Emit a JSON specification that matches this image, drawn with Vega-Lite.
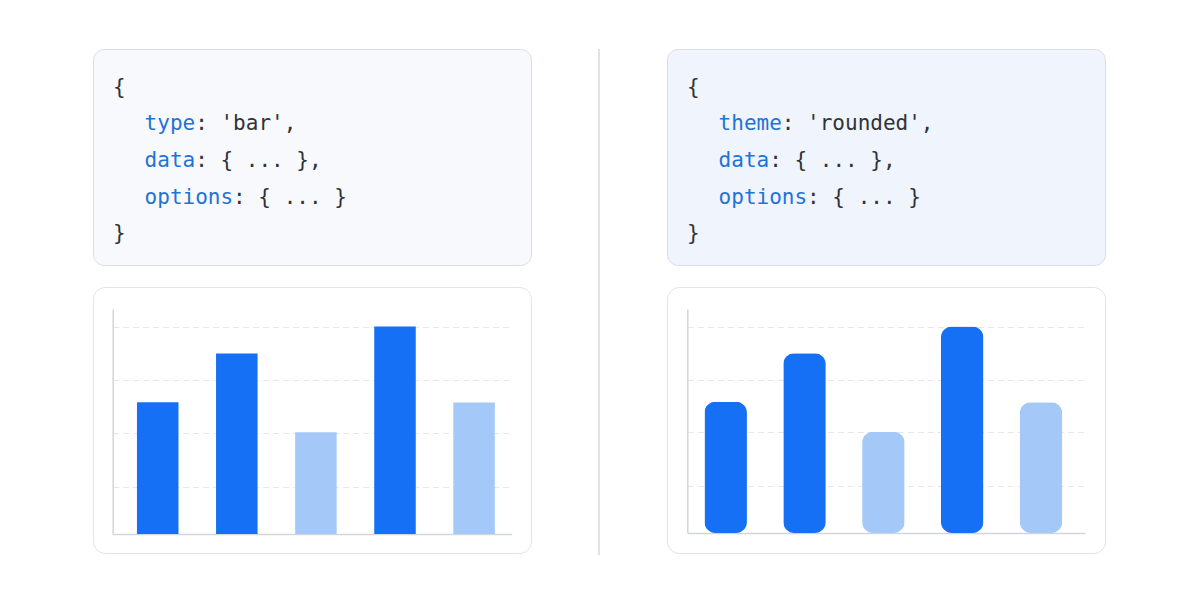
{
  "$schema": "https://vega.github.io/schema/vega-lite/v6.json",
  "background": "#ffffff",
  "padding": {"left": 92, "top": 48, "right": 0, "bottom": 0},
  "datasets": {
    "bars": [
      {"bar": "A", "value": 58.6, "tone": "strong"},
      {"bar": "B", "value": 80.2, "tone": "strong"},
      {"bar": "C", "value": 45.2, "tone": "soft"},
      {"bar": "D", "value": 92.2, "tone": "strong"},
      {"bar": "E", "value": 58.4, "tone": "soft"}
    ],
    "codeBar": [
      {"line": 1, "depth": 0, "key": "", "rest": "{"},
      {"line": 2, "depth": 1, "key": "type", "rest": ": 'bar',"},
      {"line": 3, "depth": 1, "key": "data", "rest": ": { ... },"},
      {"line": 4, "depth": 1, "key": "options", "rest": ": { ... }"},
      {"line": 5, "depth": 0, "key": "", "rest": "}"}
    ],
    "codeRounded": [
      {"line": 1, "depth": 0, "key": "", "rest": "{"},
      {"line": 2, "depth": 1, "key": "theme", "rest": ": 'rounded',"},
      {"line": 3, "depth": 1, "key": "data", "rest": ": { ... },"},
      {"line": 4, "depth": 1, "key": "options", "rest": ": { ... }"},
      {"line": 5, "depth": 0, "key": "", "rest": "}"}
    ],
    "divider": [{"part": "divider"}]
  },
  "spacing": 57,
  "hconcat": [
    {
      "spacing": 20,
      "vconcat": [
        {
          "width": 438,
          "height": 216,
          "view": {"fill": "#f7f9fc", "stroke": "#d9dee5", "strokeWidth": 1, "cornerRadius": 11},
          "data": {"name": "codeBar"},
          "transform": [
            {"calculate": "datum.depth * 2.5", "as": "keyCol"},
            {"calculate": "datum.depth * 2.5 + length(datum.key)", "as": "restCol"}
          ],
          "layer": [
            {
              "mark": {"type": "text", "align": "left", "baseline": "alphabetic", "font": "DejaVu Sans Mono", "fontSize": 21, "color": "#1f72d6"},
              "encoding": {
                "x": {"field": "keyCol", "type": "quantitative", "scale": {"domain": [0, 30], "range": [20, 399.2]}, "axis": null},
                "y": {"field": "line", "type": "quantitative", "scale": {"domain": [1, 5], "range": [44.5, 191.3]}, "axis": null},
                "text": {"field": "key"}
              }
            },
            {
              "mark": {"type": "text", "align": "left", "baseline": "alphabetic", "font": "DejaVu Sans Mono", "fontSize": 21, "color": "#303336"},
              "encoding": {
                "x": {"field": "restCol", "type": "quantitative", "scale": {"domain": [0, 30], "range": [20, 399.2]}, "axis": null},
                "y": {"field": "line", "type": "quantitative", "scale": {"domain": [1, 5], "range": [44.5, 191.3]}, "axis": null},
                "text": {"field": "rest"}
              }
            }
          ]
        },
        {
          "width": 438,
          "height": 266,
          "view": {"fill": "#ffffff", "stroke": "#e1e4e8", "strokeWidth": 1, "cornerRadius": 12},
          "data": {"name": "bars"},
          "mark": {"type": "bar"},
          "encoding": {
            "x": {
              "field": "bar", "type": "nominal", "sort": null,
              "scale": {"range": [19.7, 418.7], "paddingInner": 0.475, "paddingOuter": 0.26, "align": 0.59},
              "axis": {"title": null, "labels": false, "ticks": false, "grid": false, "domainColor": "#d2d6db", "domainWidth": 1.5, "offset": -19}
            },
            "y": {
              "field": "value", "type": "quantitative",
              "scale": {"domain": [0, 100], "range": [247, 22]},
              "axis": {"title": null, "labels": false, "ticks": false, "values": [21, 45, 68.5, 92], "grid": true, "gridDash": [6, 4], "gridColor": "#e5e7ea", "gridWidth": 1, "domainColor": "#d2d6db", "domainWidth": 1.5, "offset": -19.7}
            },
            "color": {"field": "tone", "type": "nominal", "scale": {"domain": ["strong", "soft"], "range": ["#1570f6", "#a4c9f8"]}, "legend": null}
          }
        }
      ]
    },
    {
      "width": 0,
      "height": 506,
      "view": {"stroke": null, "fill": null},
      "data": {"name": "divider"},
      "mark": {"type": "rule", "color": "#d6d9dd", "strokeWidth": 1.5},
      "encoding": {
        "x": {"field": "part", "type": "nominal", "axis": null}
      }
    },
    {
      "spacing": 20,
      "vconcat": [
        {
          "width": 438,
          "height": 216,
          "view": {"fill": "#eff4fd", "stroke": "#d6dde7", "strokeWidth": 1, "cornerRadius": 11},
          "data": {"name": "codeRounded"},
          "transform": [
            {"calculate": "datum.depth * 2.5", "as": "keyCol"},
            {"calculate": "datum.depth * 2.5 + length(datum.key)", "as": "restCol"}
          ],
          "layer": [
            {
              "mark": {"type": "text", "align": "left", "baseline": "alphabetic", "font": "DejaVu Sans Mono", "fontSize": 21, "color": "#1f72d6"},
              "encoding": {
                "x": {"field": "keyCol", "type": "quantitative", "scale": {"domain": [0, 30], "range": [20, 399.2]}, "axis": null},
                "y": {"field": "line", "type": "quantitative", "scale": {"domain": [1, 5], "range": [44.5, 191.3]}, "axis": null},
                "text": {"field": "key"}
              }
            },
            {
              "mark": {"type": "text", "align": "left", "baseline": "alphabetic", "font": "DejaVu Sans Mono", "fontSize": 21, "color": "#303336"},
              "encoding": {
                "x": {"field": "restCol", "type": "quantitative", "scale": {"domain": [0, 30], "range": [20, 399.2]}, "axis": null},
                "y": {"field": "line", "type": "quantitative", "scale": {"domain": [1, 5], "range": [44.5, 191.3]}, "axis": null},
                "text": {"field": "rest"}
              }
            }
          ]
        },
        {
          "width": 438,
          "height": 266,
          "view": {"fill": "#ffffff", "stroke": "#e1e4e8", "strokeWidth": 1, "cornerRadius": 12},
          "data": {"name": "bars"},
          "mark": {"type": "bar", "cornerRadius": 11},
          "encoding": {
            "x": {
              "field": "bar", "type": "nominal", "sort": null,
              "scale": {"range": [20.3, 418], "paddingInner": 0.461, "paddingOuter": 0.253, "align": 0.43},
              "axis": {"title": null, "labels": false, "ticks": false, "grid": false, "domainColor": "#d2d6db", "domainWidth": 1.5, "offset": -20}
            },
            "y": {
              "field": "value", "type": "quantitative",
              "scale": {"domain": [0, 100], "range": [246, 22]},
              "axis": {"title": null, "labels": false, "ticks": false, "values": [21, 45, 68.5, 92], "grid": true, "gridDash": [6, 4], "gridColor": "#e5e7ea", "gridWidth": 1, "domainColor": "#d2d6db", "domainWidth": 1.5, "offset": -20.3}
            },
            "color": {"field": "tone", "type": "nominal", "scale": {"domain": ["strong", "soft"], "range": ["#1570f6", "#a4c9f8"]}, "legend": null}
          }
        }
      ]
    }
  ]
}
